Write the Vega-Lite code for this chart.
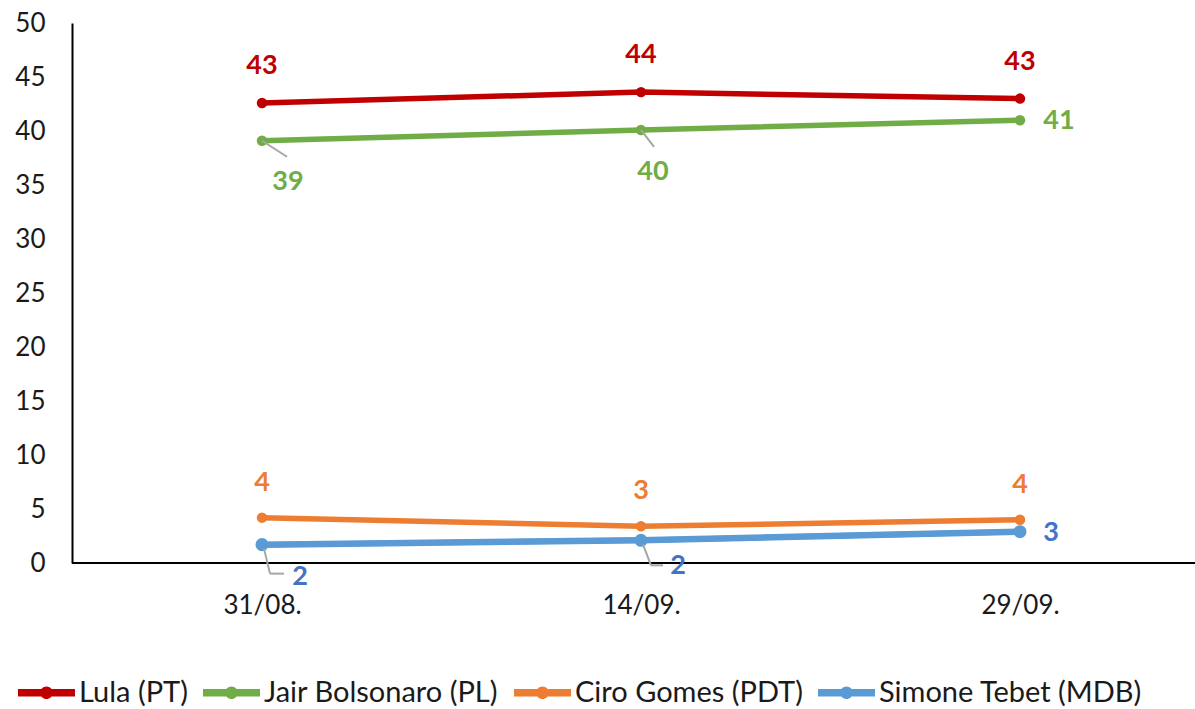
{
  "$schema": "https://vega.github.io/schema/vega-lite/v6.json",
  "width": 1123,
  "height": 540,
  "autosize": {"type": "none"},
  "padding": {"left": 72, "top": 23, "right": 0, "bottom": 146},
  "background": "white",
  "config": {
    "font": "Lato",
    "view": {"stroke": null},
    "axis": {"grid": false, "ticks": false, "domainColor": "#000000", "domainWidth": 2, "labelFont": "Lato", "labelFontSize": 26, "labelColor": "#1a1a1a", "title": null}
  },
  "data": {
    "values": [
      {"date": "31/08.", "series": "Lula (PT)", "value": 42.6},
      {"date": "14/09.", "series": "Lula (PT)", "value": 43.6},
      {"date": "29/09.", "series": "Lula (PT)", "value": 43.0},
      {"date": "31/08.", "series": "Jair Bolsonaro (PL)", "value": 39.1},
      {"date": "14/09.", "series": "Jair Bolsonaro (PL)", "value": 40.1},
      {"date": "29/09.", "series": "Jair Bolsonaro (PL)", "value": 41.0},
      {"date": "31/08.", "series": "Ciro Gomes (PDT)", "value": 4.2},
      {"date": "14/09.", "series": "Ciro Gomes (PDT)", "value": 3.4},
      {"date": "29/09.", "series": "Ciro Gomes (PDT)", "value": 4.0},
      {"date": "31/08.", "series": "Simone Tebet (MDB)", "value": 1.7},
      {"date": "14/09.", "series": "Simone Tebet (MDB)", "value": 2.1},
      {"date": "29/09.", "series": "Simone Tebet (MDB)", "value": 2.9}
    ]
  },
  "encoding": {
    "x": {"field": "date", "type": "ordinal", "sort": null, "scale": {"type": "point", "range": [190, 948], "padding": 0}, "axis": {"labelAngle": 0, "labelPadding": 29, "domain": false}},
    "y": {"field": "value", "type": "quantitative", "scale": {"domain": [0, 50], "nice": false}, "axis": {"values": [0, 5, 10, 15, 20, 25, 30, 35, 40, 45, 50], "labelPadding": 27, "domainWidth": 2}}
  },
  "layer": [
    {
      "mark": {"type": "rule", "color": "#000000", "strokeWidth": 2},
      "encoding": {"x": {"value": 0}, "x2": {"value": 1123}, "y": {"datum": 0}}
    },
    {
      "mark": {"type": "line", "strokeWidth": 5.5},
      "encoding": {
        "color": {"field": "series", "type": "nominal", "scale": {"domain": ["Lula (PT)", "Jair Bolsonaro (PL)", "Ciro Gomes (PDT)", "Simone Tebet (MDB)"], "range": ["#C00000", "#70AD47", "#ED7D31", "#5B9BD5"]}, "legend": {"orient": "none", "legendX": -54, "legendY": 641, "direction": "horizontal", "title": null, "labelFont": "Lato", "labelFontSize": 29, "labelLimit": 0, "labelColor": "#1a1a1a", "symbolType": "M -1 -0.13 L 1 -0.13 L 1 0.13 L -1 0.13 Z M 0.22 0 A 0.22 0.22 0 1 1 -0.22 0 A 0.22 0.22 0 1 1 0.22 0 Z", "symbolSize": 3249, "symbolStrokeWidth": 0, "columnPadding": 15, "labelOffset": 4, "padding": 0, "encode": {"symbols": {"update": {"size": {"value": 3249}, "strokeWidth": {"value": 0}}}}}}
      }
    },
    {
      "mark": {"type": "point", "filled": true, "opacity": 1, "size": 110},
      "encoding": {
        "color": {"field": "series", "type": "nominal"}
      }
    },
    {
      "transform": [{"filter": "datum.series == 'Simone Tebet (MDB)'"}],
      "mark": {"type": "line", "strokeWidth": 6.5, "color": "#5B9BD5"},
      "encoding": {}
    },
    {
      "transform": [{"filter": "datum.series == 'Simone Tebet (MDB)'"}],
      "mark": {"type": "point", "filled": true, "opacity": 1, "size": 170, "color": "#5B9BD5"},
      "encoding": {}
    },
    {
      "transform": [{"filter": "datum.series == 'Lula (PT)'"}],
      "mark": {"type": "text", "dy": -37, "fontSize": 27, "fontWeight": "bold", "color": "#C00000"},
      "encoding": {"text": {"field": "value", "type": "quantitative", "format": ".0f"}}
    },
    {
      "transform": [{"filter": "datum.series == 'Ciro Gomes (PDT)'"}],
      "mark": {"type": "text", "dy": -35, "fontSize": 27, "fontWeight": "bold", "color": "#ED7D31"},
      "encoding": {"text": {"field": "value", "type": "quantitative", "format": ".0f"}}
    },
    {
      "transform": [{"filter": "datum.series == 'Jair Bolsonaro (PL)' && datum.date == '31/08.'"}],
      "mark": {"type": "rule", "color": "#A6A6A6", "strokeWidth": 2, "x2Offset": 25, "y2Offset": 16},
      "encoding": {"x2": {"field": "date"}, "y2": {"field": "value"}}
    },
    {
      "transform": [{"filter": "datum.series == 'Jair Bolsonaro (PL)' && datum.date == '14/09.'"}],
      "mark": {"type": "rule", "color": "#A6A6A6", "strokeWidth": 2, "x2Offset": 13, "y2Offset": 17},
      "encoding": {"x2": {"field": "date"}, "y2": {"field": "value"}}
    },
    {
      "transform": [{"filter": "datum.series == 'Simone Tebet (MDB)' && datum.date == '31/08.'"}],
      "mark": {"type": "rule", "color": "#A6A6A6", "strokeWidth": 2, "xOffset": 2, "yOffset": 4, "x2Offset": 8, "y2Offset": 29},
      "encoding": {"x2": {"field": "date"}, "y2": {"field": "value"}}
    },
    {
      "transform": [{"filter": "datum.series == 'Simone Tebet (MDB)' && datum.date == '31/08.'"}],
      "mark": {"type": "rule", "color": "#A6A6A6", "strokeWidth": 2, "xOffset": 8, "yOffset": 29, "x2Offset": 22, "y2Offset": 29},
      "encoding": {"x2": {"field": "date"}, "y2": {"field": "value"}}
    },
    {
      "transform": [{"filter": "datum.series == 'Simone Tebet (MDB)' && datum.date == '14/09.'"}],
      "mark": {"type": "rule", "color": "#A6A6A6", "strokeWidth": 2, "xOffset": 2, "yOffset": 4, "x2Offset": 10, "y2Offset": 25},
      "encoding": {"x2": {"field": "date"}, "y2": {"field": "value"}}
    },
    {
      "transform": [{"filter": "datum.series == 'Simone Tebet (MDB)' && datum.date == '14/09.'"}],
      "mark": {"type": "rule", "color": "#A6A6A6", "strokeWidth": 2, "xOffset": 10, "yOffset": 25, "x2Offset": 22, "y2Offset": 25},
      "encoding": {"x2": {"field": "date"}, "y2": {"field": "value"}}
    },
    {
      "transform": [{"filter": "datum.series == 'Jair Bolsonaro (PL)' && datum.date == '31/08.'"}],
      "mark": {"type": "text", "dx": 26, "dy": 41, "fontSize": 27, "fontWeight": "bold", "color": "#70AD47"},
      "encoding": {"text": {"field": "value", "type": "quantitative", "format": ".0f"}}
    },
    {
      "transform": [{"filter": "datum.series == 'Jair Bolsonaro (PL)' && datum.date == '14/09.'"}],
      "mark": {"type": "text", "dx": 12, "dy": 42, "fontSize": 27, "fontWeight": "bold", "color": "#70AD47"},
      "encoding": {"text": {"field": "value", "type": "quantitative", "format": ".0f"}}
    },
    {
      "transform": [{"filter": "datum.series == 'Jair Bolsonaro (PL)' && datum.date == '29/09.'"}],
      "mark": {"type": "text", "dx": 39, "dy": 1, "fontSize": 27, "fontWeight": "bold", "color": "#70AD47"},
      "encoding": {"text": {"field": "value", "type": "quantitative", "format": ".0f"}}
    },
    {
      "transform": [{"filter": "datum.series == 'Simone Tebet (MDB)' && datum.date == '31/08.'"}],
      "mark": {"type": "text", "dx": 38, "dy": 32, "fontSize": 27, "fontWeight": "bold", "color": "#4472C4"},
      "encoding": {"text": {"field": "value", "type": "quantitative", "format": ".0f"}}
    },
    {
      "transform": [{"filter": "datum.series == 'Simone Tebet (MDB)' && datum.date == '14/09.'"}],
      "mark": {"type": "text", "dx": 37, "dy": 26, "fontSize": 27, "fontWeight": "bold", "color": "#4472C4"},
      "encoding": {"text": {"field": "value", "type": "quantitative", "format": ".0f"}}
    },
    {
      "transform": [{"filter": "datum.series == 'Simone Tebet (MDB)' && datum.date == '29/09.'"}],
      "mark": {"type": "text", "dx": 31, "dy": 1, "fontSize": 27, "fontWeight": "bold", "color": "#4472C4"},
      "encoding": {"text": {"field": "value", "type": "quantitative", "format": ".0f"}}
    }
  ]
}
